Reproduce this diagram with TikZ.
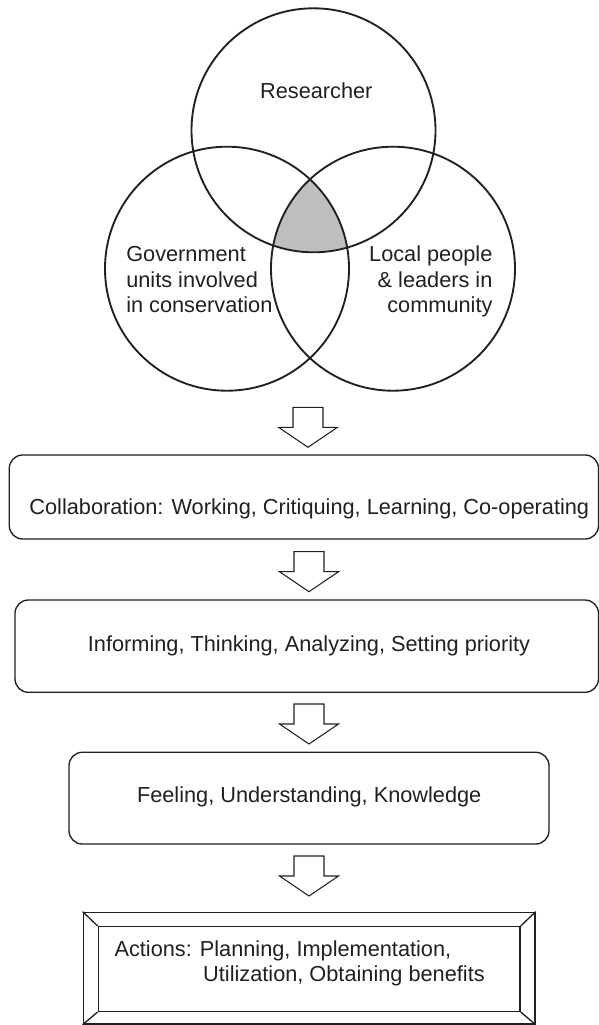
\documentclass[tikz,border=0pt]{standalone}
\usepackage{fontspec}
\setmainfont{Liberation Sans}
\definecolor{venngray}{RGB}{188,190,192}
\definecolor{inkline}{RGB}{35,31,32}
\tikzset{
  ring/.style={draw=inkline, line width=1.4pt},
  roundbox/.style={draw=inkline, line width=1pt, rounded corners=10pt, inner sep=0pt, rectangle},
  framebox/.style={draw=inkline, line width=1pt, inner sep=0pt, rectangle},
  lbl/.style={font=\fontsize{16.3}{19}\selectfont, inner sep=0pt, text=inkline},
  arrowline/.style={draw=inkline, line width=0.8pt, fill=white, line join=miter},
  pics/blockarrow/.style={code={
    \draw[arrowline] (-15,0) -- (-15,20) -- (-29.5,20) -- (0,40) -- (29.5,20) -- (15,20) -- (15,0) -- cycle;
  }},
}
\begin{document}
\begin{tikzpicture}[x=0.75pt, y=-0.75pt]
\useasboundingbox (0,0) rectangle (599,1025);

% Venn diagram
\coordinate (cR) at (313.5,130.3);
\coordinate (cG) at (227,268.7);
\coordinate (cL) at (393,268.7);
\begin{scope}
  \clip (cR) circle [radius=122];
  \clip (cG) circle [radius=122];
  \fill[venngray] (cL) circle [radius=122];
\end{scope}
\draw[ring] (cR) circle [radius=122];
\draw[ring] (cG) circle [radius=122];
\draw[ring] (cL) circle [radius=122];

\node[lbl, anchor=base] (tR) at (316.3,98.3) {Researcher};
\node[lbl, anchor=base west] (tG) at (126,261.7)
  {\begin{tabular}[t]{@{}l@{}}Government\\units involved\\in conservation\end{tabular}};
\node[lbl, anchor=base east] (tL) at (492.7,261.7)
  {\begin{tabular}[t]{@{}r@{}}Local people\\\& leaders in\\community\end{tabular}};

% boxes
\node[roundbox, minimum width=441.9pt, minimum height=63pt] (b1) at (303.9,497) {};
\node[lbl, anchor=base] (t1) at (309.3,514) {Collaboration: Working, Critiquing, Learning, Co-operating};

\node[roundbox, minimum width=437.6pt, minimum height=69.2pt] (b2) at (306.75,646.15) {};
\node[lbl, anchor=base] (t2) at (309,651) {Informing, Thinking, Analyzing, Setting priority};

\node[roundbox, minimum width=360pt, minimum height=68.8pt] (b3) at (309,798.15) {};
\node[lbl, anchor=base] (t3) at (309.2,802.7) {Feeling, Understanding, Knowledge};

\node[framebox, minimum width=338.8pt, minimum height=83.8pt] (b4) at (309.15,968.15) {};
\node[framebox, minimum width=316.3pt, minimum height=63.5pt] (b4i) at (309.15,969) {};
\draw[inkline, line width=1pt] (b4.north west) -- (b4i.north west);
\draw[inkline, line width=1pt] (b4.north east) -- (b4i.north east);
\draw[inkline, line width=1pt] (b4.south west) -- (b4i.south west);
\draw[inkline, line width=1pt] (b4.south east) -- (b4i.south east);
\node[lbl, anchor=base west] (t4) at (114.3,956.5)
  {\begin{tabular}[t]{@{}l@{}}Actions: Planning, Implementation,\\\hspace*{66.5pt}Utilization, Obtaining benefits\end{tabular}};

% block arrows
\coordinate (a1) at (308,407.3);
\coordinate (a2) at (309,551.7);
\coordinate (a3) at (309,704);
\coordinate (a4) at (309,856);
\pic at (a1) {blockarrow};
\pic at (a2) {blockarrow};
\pic at (a3) {blockarrow};
\pic at (a4) {blockarrow};
\end{tikzpicture}
\end{document}
